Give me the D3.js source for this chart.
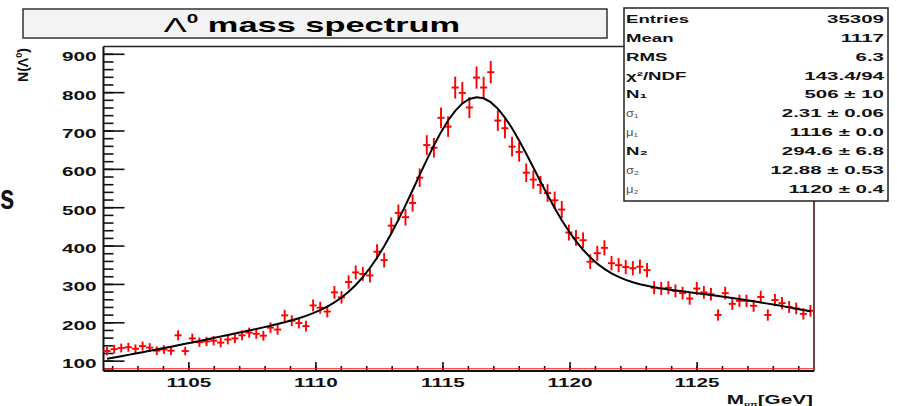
<!DOCTYPE html>
<html>
<head>
<meta charset="utf-8">
<script src="https://cdn.jsdelivr.net/npm/d3@7/dist/d3.min.js"></script>
<style>
  html, body { margin: 0; padding: 0; background: #ffffff; }
  svg { display: block; }
  text { font-family: "Liberation Sans", Arial, sans-serif; }
</style>
</head>
<body>
<svg id="chart" width="897" height="406"></svg>
<script>
// Histogram of the invariant mass, 100 bins
const massRange = [1101.66, 1129.62];
const counts = [
  125, 130, 133, 135, 131, 138, 134, 126, 129, 126,
  166, 125, 158, 148, 150, 152, 147, 155, 158, 166,
  173, 170, 165, 186, 181, 218, 204, 198, 190, 244,
  238, 228, 278, 265, 305, 330, 326, 322, 384, 362,
  452, 485, 474, 511, 577, 662, 655, 733, 710, 812,
  798, 760, 838, 812, 852, 726, 706, 658, 644, 590,
  572, 558, 537, 518, 494, 434, 420, 414, 358, 380,
  394, 354, 349, 344, 341, 345, 336, 290, 288, 290,
  282, 276, 262, 288, 278, 273, 219, 276, 248, 256,
  256, 243, 266, 219, 258, 250, 240, 236, 222, 230
];

// Double-Gaussian fit parameters
const fitN1 = 506, fitSigma1 = 2.31, fitMu1 = 1116.3;
const fitN2 = 294.6, fitSigma2 = 12.88, fitMu2 = 1120.3;

// Axis ticks
const xMajorTicks = [1105, 1110, 1115, 1120, 1125];
const xMinorTicks = d3.range(1102, 1130, 1);
const yMajorTicks = [100, 200, 300, 400, 500, 600, 700, 800, 900];
const yMinorTicks = d3.range(80, 901, 20);

// Statistics box
const statLabels = ["Entries", "Mean", "RMS", "χ²/NDF", "N₁", "σ₁", "μ₁", "N₂", "σ₂", "μ₂"];
const statValues = ["35309", "1117", "6.3", "143.4/94", "506 ± 10", "2.31 ± 0.06",
                    "1116 ± 0.0", "294.6 ± 6.8", "12.88 ± 0.53", "1120 ± 0.4"];

const titleText = "mass spectrum";

// ---------------------------------------------------------------
const svg = d3.select("#chart");
const SX = 1.66;  // horizontal stretch of all lettering

const padL = 103.5, padR = 814, padT = 46.5, padB = 371;
const x = d3.scaleLinear().domain(massRange).range([padL, padR]);
const y = d3.scaleLinear().domain([73, 919]).range([padB, padT]);

// stretched text helper
function stext(parent, px, py, sx) {
  return parent.append("g").attr("transform", `translate(${px},${py}) scale(${sx},1)`)
    .append("text");
}

// Title box
svg.append("rect").attr("x", 23).attr("y", 9).attr("width", 584).attr("height", 29)
  .attr("fill", "#f3f3f3").attr("stroke", "#333").attr("stroke-width", 1.5);
{
  const t = stext(svg, 312, 32, 1.72).attr("text-anchor", "middle").attr("fill", "#000");
  t.append("tspan").attr("font-size", 20).attr("font-weight", "normal").text("Λ");
  t.append("tspan").attr("font-size", 12).attr("font-weight", "bold").attr("dy", -9).text("0");
  t.append("tspan").attr("font-size", 20).attr("font-weight", "bold").attr("dy", 9).text(" " + titleText);
}

// Minor ticks
svg.append("g").attr("transform", `translate(${padL},0)`)
  .call(d3.axisLeft(y).tickValues(yMinorTicks).tickSizeInner(-10).tickSizeOuter(0).tickFormat(""))
  .call(g => g.select(".domain").remove())
  .call(g => g.selectAll("line").attr("stroke", "#111").attr("stroke-width", 1.6));
svg.append("g").attr("transform", `translate(0,${padB})`)
  .call(d3.axisBottom(x).tickValues(xMinorTicks).tickSizeInner(-5).tickSizeOuter(0).tickFormat(""))
  .call(g => g.select(".domain").remove())
  .call(g => g.selectAll("line").attr("stroke", "#111").attr("stroke-width", 1.6));

// Major ticks with labels
const yAxisG = svg.append("g").attr("transform", `translate(${padL},0)`)
  .call(d3.axisLeft(y).tickValues(yMajorTicks).tickSizeInner(-21).tickSizeOuter(0)
    .tickPadding(7).tickFormat(d3.format("d")))
  .call(g => g.select(".domain").remove())
  .call(g => g.selectAll("line").attr("stroke", "#111").attr("stroke-width", 1.6));
yAxisG.selectAll("text")
  .attr("x", -7 / SX).attr("dy", "0.55em").attr("transform", `scale(${SX},1)`)
  .attr("font-size", 12.5).attr("font-weight", "bold").attr("fill", "#111")
  .attr("font-family", "Liberation Sans, Arial, sans-serif");

const xAxisG = svg.append("g").attr("transform", `translate(0,${padB})`)
  .call(d3.axisBottom(x).tickValues(xMajorTicks).tickSizeInner(-9).tickSizeOuter(0)
    .tickPadding(7).tickFormat(d3.format("d")))
  .call(g => g.select(".domain").remove())
  .call(g => g.selectAll("line").attr("stroke", "#111").attr("stroke-width", 1.6));
xAxisG.selectAll("text")
  .attr("transform", `scale(${SX},1)`).attr("y", 7).attr("dy", "0.71em")
  .attr("font-size", 12.5).attr("font-weight", "bold").attr("fill", "#111")
  .attr("font-family", "Liberation Sans, Arial, sans-serif");

// Frame
svg.append("line").attr("x1", padL).attr("x2", 624).attr("y1", padT).attr("y2", padT)
  .attr("stroke", "#222").attr("stroke-width", 1.5);
svg.append("line").attr("x1", padR).attr("x2", padR).attr("y1", 201).attr("y2", padB)
  .attr("stroke", "#4a1515").attr("stroke-width", 1.6);
svg.append("line").attr("x1", padL).attr("x2", padR).attr("y1", padB - 2.3).attr("y2", padB - 2.3)
  .attr("stroke", "#ff2020").attr("stroke-width", 1);
svg.append("line").attr("x1", padL).attr("x2", padL).attr("y1", padT).attr("y2", padB)
  .attr("stroke", "#111").attr("stroke-width", 2);
svg.append("line").attr("x1", padL).attr("x2", padR).attr("y1", padB).attr("y2", padB)
  .attr("stroke", "#111").attr("stroke-width", 2);

// Data points with error bars
const binW = (massRange[1] - massRange[0]) / counts.length;
const bins = counts.map((c, i) => ({ lo: massRange[0] + i * binW, c: massRange[0] + (i + 0.5) * binW, hi: massRange[0] + (i + 1) * binW, n: c }));
const pts = svg.append("g").attr("stroke", "#ff0000").attr("stroke-width", 1.9);
pts.selectAll("line.h").data(bins).join("line").attr("class", "h")
  .attr("x1", d => x(d.lo)).attr("x2", d => x(d.hi))
  .attr("y1", d => y(d.n)).attr("y2", d => y(d.n));
pts.selectAll("line.v").data(bins).join("line").attr("class", "v")
  .attr("x1", d => x(d.c)).attr("x2", d => x(d.c))
  .attr("y1", d => y(d.n - Math.sqrt(d.n))).attr("y2", d => y(d.n + Math.sqrt(d.n)));

// Fit curve: sum of two Gaussians, sampled like a TF1 with 100 points
const fitModel = m => fitN1 * Math.exp(-0.5 * ((m - fitMu1) / fitSigma1) ** 2)
                    + fitN2 * Math.exp(-0.5 * ((m - fitMu2) / fitSigma2) ** 2);
const fitXs = d3.range(100).map(k => bins[0].c + k * (bins[bins.length - 1].c - bins[0].c) / 99);
svg.append("path").datum(fitXs)
  .attr("fill", "none").attr("stroke", "#000").attr("stroke-width", 2)
  .attr("d", d3.line().x(m => x(m)).y(m => y(fitModel(m))));

// Statistics box
svg.append("rect").attr("x", 624).attr("y", 8).attr("width", 264).attr("height", 193)
  .attr("fill", "#fff").attr("stroke", "#222").attr("stroke-width", 1.5);
statLabels.forEach((lab, k) => {
  const cy = 18.5 + 18.9 * k + 4.3;
  const greek = lab.startsWith("σ") || lab.startsWith("μ");
  const t = stext(svg, 626, cy, greek ? 1.3 : 1.62).attr("fill", greek ? "#555" : "#111")
    .attr("font-size", greek ? 10 : 11.5).attr("font-weight", greek ? "normal" : "bold");
  t.text(lab);
  stext(svg, 884, cy, 1.78).attr("text-anchor", "end").attr("fill", "#111")
    .attr("font-size", 11.5).attr("font-weight", "bold").text(statValues[k]);
});

// Axis titles
{
  const g = svg.append("g").attr("transform", "translate(28,65) rotate(-90)");
  const t = g.append("text").attr("text-anchor", "middle").attr("font-size", 14)
    .attr("font-weight", "bold").attr("fill", "#111");
  t.append("tspan").text("N(Λ");
  t.append("tspan").attr("font-size", 9).attr("dy", -6).text("0");
  t.append("tspan").attr("dy", 6).text(")");
}
{
  const t = stext(svg, 813, 404, 1.66).attr("text-anchor", "end").attr("font-size", 12.5)
    .attr("font-weight", "bold").attr("fill", "#111");
  t.append("tspan").text("M");
  t.append("tspan").attr("font-size", 6).attr("dy", 2).text("pπ");
  t.append("tspan").attr("dy", -2).text("[GeV]");
}

// Slide lettering around the figure
svg.append("g").attr("transform", "translate(0,209) scale(0.72,1)")
  .append("text").attr("x", 0).attr("y", 0).attr("font-size", 36)
  .attr("font-weight", "bold").attr("fill", "#111").text("s");
</script>
</body>
</html>
